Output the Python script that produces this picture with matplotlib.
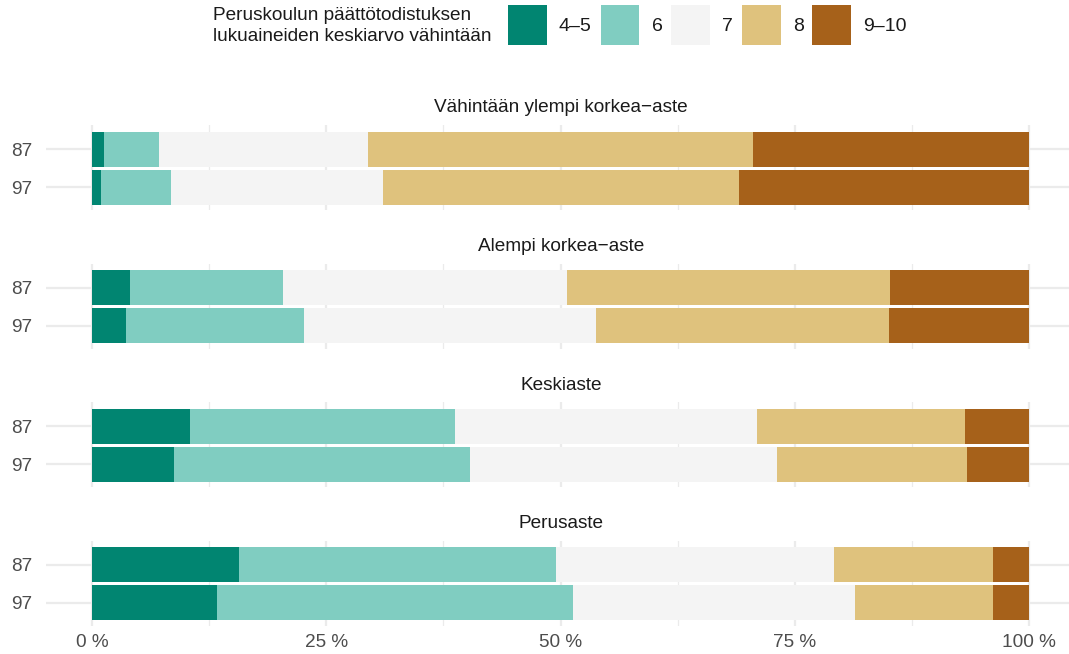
import matplotlib
matplotlib.use("Agg")
import matplotlib.pyplot as plt
from matplotlib.patches import Patch
import numpy as np

plt.rcParams['font.family'] = ['Liberation Sans', 'DejaVu Sans']

groups = ["Vähintään ylempi korkea−aste", "Alempi korkea−aste", "Keskiaste", "Perusaste"]
cohorts = ["87", "97"]
categories = ["4–5", "6", "7", "8", "9–10"]
colors = ["#018571", "#80cdc1", "#f4f4f4", "#dfc27d", "#a6611a"]

# shares (%) per group: rows = cohorts (87, 97), cols = categories
ylempi = [[1.3, 5.9, 22.3, 41.0, 29.5],
          [1.0, 7.4, 22.7, 37.9, 31.0]]
alempi = [[4.1, 16.3, 30.3, 34.5, 14.8],
          [3.6, 19.0, 31.2, 31.3, 14.9]]
keski = [[10.5, 28.2, 32.3, 22.2, 6.8],
         [8.8, 31.5, 32.8, 20.3, 6.6]]
perus = [[15.7, 33.8, 29.7, 17.0, 3.8],
         [13.3, 38.0, 30.1, 14.8, 3.8]]
data = [ylempi, alempi, keski, perus]

W, H = 1069, 654
fig = plt.figure(figsize=(W / 100, H / 100), dpi=100)

left_px, right_px = 46, 1069
x0_px, x100_px = 92, 1029
ppp = (x100_px - x0_px) / 100.0
xlim = ((left_px - x0_px) / ppp, (right_px - x0_px) / ppp)
panel_tops = [125, 263.5, 402, 540.5]
panel_h = 85
strip_center_px = (46 + 1076) / 2

text_col = "#1a1a1a"
tick_col = "#4d4d4d"
grid_col = "#ebebeb"

for gi, (gname, vals) in enumerate(zip(groups, data)):
    top = panel_tops[gi]
    ax = fig.add_axes([left_px / W, 1 - (top + panel_h) / H,
                       (right_px - left_px) / W, panel_h / H])
    ax.set_xlim(*xlim)
    ax.set_ylim(1.6, -0.64)
    arr = np.array(vals, dtype=float)
    arr = arr / arr.sum(axis=1, keepdims=True) * 100
    ypos = np.arange(len(cohorts))
    lefts = np.zeros(len(cohorts))
    for ci in range(len(categories)):
        ax.barh(ypos, arr[:, ci], left=lefts, height=0.92, color=colors[ci],
                linewidth=0, zorder=3)
        lefts += arr[:, ci]
    for s in ax.spines.values():
        s.set_visible(False)
    ax.set_facecolor("none")
    ax.set_xticks([0, 25, 50, 75, 100])
    ax.set_xticks([12.5, 37.5, 62.5, 87.5], minor=True)
    ax.grid(True, axis='x', which='major', color=grid_col, linewidth=1.6, zorder=0)
    ax.grid(True, axis='x', which='minor', color=grid_col, linewidth=0.9, zorder=0)
    ax.set_yticks(ypos)
    ax.set_yticklabels(cohorts)
    ax.grid(True, axis='y', color=grid_col, linewidth=1.6, zorder=0)
    ax.tick_params(axis='both', which='both', length=0, labelsize=13.7, colors=tick_col)
    ax.tick_params(axis='y', pad=10)
    ax.tick_params(axis='x', pad=6)
    if gi < len(groups) - 1:
        ax.set_xticklabels([])
    else:
        ax.set_xticklabels([f"{t} %" for t in [0, 25, 50, 75, 100]])
    fig.text(strip_center_px / W, 1 - (top - 17) / H, gname, ha='center', va='center',
             fontsize=13.7, color=text_col)

# legend
fig.text(213 / W, 1 - 26 / H, "Peruskoulun päättötodistuksen\nlukuaineiden keskiarvo vähintään",
         ha='left', va='center', fontsize=13.7, color=text_col, linespacing=1.3)
handles = [Patch(facecolor=c, edgecolor='none') for c in colors]
fig.legend(handles, categories, loc='center left', bbox_to_anchor=(508 / W, 1 - 25 / H),
           ncol=5, frameon=False, fontsize=14, handlelength=2.0, handleheight=2.75,
           handletextpad=0.62, columnspacing=0.45, borderpad=0, borderaxespad=0,
           labelcolor=text_col)

fig.savefig("out.png", dpi=100)
